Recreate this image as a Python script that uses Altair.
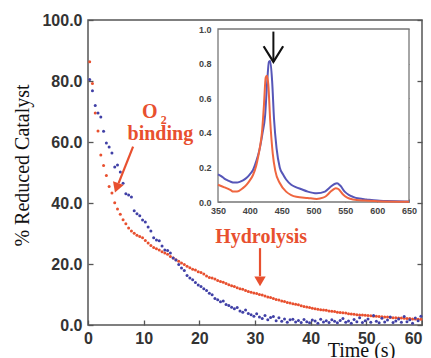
import altair as alt
import pandas as pd

# ---------------- data ----------------
TIME_START = 0.3
TIME_STEP = 0.5

RED_PCT = [86.3, 79.2, 69.5, 63.6, 55.7, 52.3, 49.0, 45.4, 43.3, 40.1,
           38.0, 36.3, 34.5, 33.2, 31.8, 30.8, 30.1, 29.4, 29.0, 28.6,
           27.7, 26.9, 26.1, 25.4, 25.0, 24.6, 24.0, 23.6, 23.2, 22.5,
           22.0, 21.4, 20.9, 20.3, 19.8, 19.3, 18.8, 18.3, 18.0, 17.5,
           17.2, 16.7, 16.1, 15.6, 15.4, 15.1, 14.6, 14.3, 14.0, 13.6,
           13.2, 12.9, 12.6, 12.2, 11.9, 11.7, 11.3, 11.0, 10.7, 10.5,
           10.3, 10.0, 9.8, 9.5, 9.2, 9.0, 8.7, 8.4, 8.2, 7.9,
           7.7, 7.4, 7.2, 7.0, 6.8, 6.6, 6.3, 6.1, 5.9, 5.7,
           5.5, 5.3, 5.2, 5.0, 4.9, 4.8, 4.6, 4.5, 4.4, 4.2,
           4.1, 4.0, 3.9, 3.7, 3.6, 3.5, 3.4, 3.3, 3.3, 3.2,
           3.1, 3.0, 2.9, 2.9, 2.8, 2.7, 2.6, 2.6, 2.5, 2.4,
           2.4, 2.3, 2.3, 2.2, 2.1, 2.1, 2.0, 2.0, 1.9, 1.9]

BLUE_PCT = [80.5, 76.8, 72.0, 69.5, 68.2, 63.5, 59.7, 58.4, 56.4, 51.8,
            52.5, 50.2, 46.5, 43.0, 42.6, 42.0, 37.5, 36.5, 35.8, 34.4,
            33.8, 32.1, 30.8, 28.6, 27.9, 27.6, 25.9, 24.6, 24.4, 23.6,
            22.0, 21.3, 19.8, 18.7, 17.9, 16.2, 15.4, 14.8, 13.9, 13.1,
            12.6, 11.9, 11.3, 10.4, 9.9, 8.7, 8.3, 7.6, 7.9, 6.7,
            6.4, 5.8, 5.3, 5.7, 4.6, 4.2, 4.9, 3.8, 3.4, 2.9,
            3.7, 2.6, 2.1, 3.1, 1.7, 2.5, 2.8, 1.4, 2.4, 1.2,
            2.0, 0.9, 1.7, 1.9, 1.0, 1.5, 0.8, 1.8, 1.1, 0.7,
            1.6, 1.3, 0.6, 1.9, 1.0, 1.4, 0.8, 1.7, 1.2, 0.7,
            1.5, 2.1, 0.9, 1.3, 0.6, 1.8, 1.1, 2.4, 0.8, 1.4,
            2.0, 0.9, 3.1, 1.2, 0.7, 2.2, 1.0, 1.6, 2.6, 0.8,
            1.3, 2.0, 0.9, 2.8, 1.1, 1.7, 0.6, 2.3, 1.4, 2.9]

X_TICKS = [0, 10, 20, 30, 40, 50, 60]
Y_TICKS = [0, 20, 40, 60, 80, 100]

SPEC_BLUE_NM = [350, 355, 360, 365, 370, 375, 380, 385, 390, 395, 400, 405,
                410, 415, 420, 424, 427, 430, 432, 435, 438, 442, 447, 452,
                457, 465, 473, 480, 491, 505, 518, 526, 533, 537, 542, 549,
                556, 562, 572, 583, 600, 614, 630, 650]
SPEC_BLUE_ABS = [0.16, 0.15, 0.135, 0.125, 0.117, 0.112, 0.112, 0.118, 0.127,
                 0.14, 0.16, 0.185, 0.235, 0.30, 0.40, 0.50, 0.68, 0.81, 0.815,
                 0.70, 0.48, 0.31, 0.20, 0.16, 0.13, 0.10, 0.085, 0.075, 0.06,
                 0.05, 0.06, 0.085, 0.104, 0.108, 0.095, 0.06, 0.04, 0.03,
                 0.02, 0.015, 0.008, 0.006, 0.004, 0.003]

SPEC_RED_NM = [350, 360, 370, 374, 380, 389, 395, 400, 405, 410, 413, 416,
               419, 422, 425, 427, 429, 432, 436, 440, 447, 457, 465, 473,
               491, 505, 515, 520, 527, 532, 535, 539, 546, 553, 562, 580,
               600, 650]
SPEC_RED_ABS = [0.10, 0.085, 0.068, 0.06, 0.06, 0.08, 0.10, 0.125, 0.156,
                0.21, 0.26, 0.32, 0.40, 0.55, 0.72, 0.73, 0.68, 0.47, 0.28,
                0.18, 0.11, 0.06, 0.04, 0.03, 0.023, 0.018, 0.025, 0.035,
                0.06, 0.075, 0.08, 0.075, 0.045, 0.025, 0.015, 0.008, 0.005,
                0.002]

INSET_X_TICKS = [350, 400, 450, 500, 550, 600, 650]
INSET_Y_TICKS = [0.0, 0.2, 0.4, 0.6, 0.8, 1.0]

# annotations (data units)
ANN_TEXT = ["O", "2", "binding", "Hydrolysis"]
ANN_T = [11.1, 13.6, 13.0, 31.1]
ANN_P = [67.9, 66.0, 60.7, 26.9]
ANN_SIZE = [20, 12, 20, 20]

ARROW_T1 = [8.1, 30.9]
ARROW_P1 = [58.5, 25.2]
ARROW_T2 = [5.5, 30.9]
ARROW_P2 = [46.5, 16.0]
HEAD_T = [5.15, 30.9]
HEAD_P = [45.0, 14.3]
HEAD_ANGLE = [20, 0]

INSET_ARROW_NM = 437
INSET_ARROW_TOP = 0.985
INSET_ARROW_TIP = 0.81

# ---------------- styling ----------------
RED = "#e8502f"
BLUE = "#4040a6"
RED_LINE = "#ef6640"
BLUE_LINE = "#5656b8"
SANS = "Liberation Sans"
SERIF = "Liberation Serif"
W, H = 334, 305
INSET_L, INSET_R, INSET_B, INSET_T = 130, 321, 182, 9

times = [round(TIME_START + TIME_STEP * i, 2) for i in range(len(RED_PCT))]
df = pd.DataFrame({
    "t": times + times,
    "pct": RED_PCT + BLUE_PCT,
    "series": ["red"] * len(RED_PCT) + ["blue"] * len(BLUE_PCT),
})

xs = alt.Scale(domain=[0, 60], nice=False, zero=False)
ys = alt.Scale(domain=[0, 100], nice=False, zero=False)

pts = alt.Chart(df).mark_circle(size=9, opacity=1).encode(
    x=alt.X("t:Q", scale=xs, axis=alt.Axis(
        values=X_TICKS, ticks=False, tickSize=0, domain=False, grid=False,
        labelFont=SANS, labelFontWeight="bold", labelFontSize=16,
        labelColor="#333", labelPadding=5, labelFlush=False, labelOverlap=False,
        labelAlign=alt.ExprRef(expr="datum.value >= 60 ? 'right' : 'center'"),
        title="Time (s)", titleFont=SERIF, titleFontWeight="normal",
        titleFontSize=20, titleColor="#111", titleX=273, titleY=31,
        titleAlign="center", titleBaseline="alphabetic")),
    y=alt.Y("pct:Q", scale=ys, axis=alt.Axis(
        values=Y_TICKS, format=".1f", ticks=False, tickSize=0, domain=False,
        grid=False, labelFont=SANS, labelFontWeight="bold", labelFontSize=16,
        labelColor="#333", labelPadding=6, labelFlush=False, labelOverlap=False,
        title="% Reduced Catalyst", titleFont=SERIF, titleFontWeight="normal",
        titleFontSize=20, titleColor="#111", titleX=-66, titleY=145,
        titleAngle=270, titleAlign="center", titleBaseline="middle")),
    color=alt.Color("series:N", scale=alt.Scale(domain=["red", "blue"], range=[RED, BLUE]), legend=None),
)

tick_axis = dict(labels=False, domain=False, grid=False, title=None, tickColor="#555", tickWidth=1.3)
ticks_a = alt.Chart(df).mark_circle(opacity=0).encode(
    x=alt.X("t:Q", scale=xs, axis=alt.Axis(orient="top", offset=-H, values=X_TICKS, tickSize=5, **tick_axis)),
    y=alt.Y("pct:Q", scale=ys, axis=alt.Axis(orient="right", offset=-W, values=Y_TICKS, tickSize=5, **tick_axis)),
)
ticks_b = alt.Chart(df).mark_circle(opacity=0).encode(
    x=alt.X("t:Q", scale=xs, axis=None),
    y=alt.Y("pct:Q", scale=ys, axis=alt.Axis(orient="left", offset=-W, values=Y_TICKS, tickSize=5, **tick_axis)),
)

ann_df = pd.DataFrame({"t": ANN_T, "p": ANN_P, "label": ANN_TEXT, "fs": ANN_SIZE})
ann_layers = []
for i in range(len(ANN_TEXT)):
    ann_layers.append(
        alt.Chart(ann_df.iloc[[i]]).mark_text(
            font=SERIF, fontWeight="bold", fontSize=ANN_SIZE[i], color=RED,
            align="center", baseline="alphabetic").encode(
            x=alt.X("t:Q", scale=xs, axis=None),
            y=alt.Y("p:Q", scale=ys, axis=None),
            text="label:N")
    )

arr_df = pd.DataFrame({"t1": ARROW_T1, "p1": ARROW_P1, "t2": ARROW_T2, "p2": ARROW_P2,
                       "ht": HEAD_T, "hp": HEAD_P, "ang": HEAD_ANGLE})
arrow_lines = alt.Chart(arr_df).mark_rule(color=RED, strokeWidth=2.2).encode(
    x=alt.X("t1:Q", scale=xs, axis=None), y=alt.Y("p1:Q", scale=ys, axis=None),
    x2="t2:Q", y2="p2:Q")
arrow_heads = alt.Chart(arr_df).mark_point(shape="triangle-down", filled=True, size=130,
                                           color=RED, opacity=1).encode(
    x=alt.X("ht:Q", scale=xs, axis=None), y=alt.Y("hp:Q", scale=ys, axis=None),
    angle=alt.Angle("ang:Q", scale=None))

main = alt.layer(pts, ticks_a, ticks_b, *ann_layers, arrow_lines, arrow_heads).resolve_axis(
    x="independent", y="independent")

# ---------------- inset ----------------
ixs = alt.Scale(domain=[350, 650], range=[INSET_L, INSET_R], nice=False, zero=False)
iys = alt.Scale(domain=[0, 1], range=[INSET_B, INSET_T], nice=False, zero=False)

frame_df = pd.DataFrame({"x0": [INSET_X_TICKS[0]], "x1": [INSET_X_TICKS[-1]],
                         "y0": [INSET_Y_TICKS[0]], "y1": [INSET_Y_TICKS[-1]]})
frame = alt.Chart(frame_df).mark_rect(fill="white", stroke="#777", strokeWidth=1.3).encode(
    x=alt.X("x0:Q", scale=ixs, axis=alt.Axis(
        orient="bottom", offset=-(H - INSET_B), values=INSET_X_TICKS, format="d",
        ticks=False, tickSize=0, domain=False, grid=False, labelFont=SANS,
        labelFontWeight="bold", labelFontSize=9, labelColor="#444", labelPadding=4,
        labelFlush=False, labelOverlap=False, title=None)),
    x2="x1:Q",
    y=alt.Y("y0:Q", scale=iys, axis=alt.Axis(
        orient="left", offset=-INSET_L, values=INSET_Y_TICKS, format=".1f",
        ticks=False, tickSize=0, domain=False, grid=False, labelFont=SANS,
        labelFontWeight="bold", labelFontSize=9, labelColor="#444", labelPadding=7,
        labelFlush=False, labelOverlap=False, title=None)),
    y2="y1:Q",
)

itick_axis = dict(labels=False, domain=False, grid=False, title=None, tickColor="#777", tickWidth=1)
iticks_a = alt.Chart(frame_df).mark_point(opacity=0).encode(
    x=alt.X("x0:Q", scale=ixs, axis=alt.Axis(orient="top", offset=-INSET_B, values=INSET_X_TICKS, tickSize=3, **itick_axis)),
    y=alt.Y("y0:Q", scale=iys, axis=alt.Axis(orient="right", offset=-(W - INSET_L), values=INSET_Y_TICKS, tickSize=3, **itick_axis)),
)
iticks_b = alt.Chart(frame_df).mark_point(opacity=0).encode(
    x=alt.X("x1:Q", scale=ixs, axis=None),
    y=alt.Y("y1:Q", scale=iys, axis=alt.Axis(orient="left", offset=-INSET_R, values=INSET_Y_TICKS, tickSize=3, **itick_axis)),
)

blue_df = pd.DataFrame({"nm": SPEC_BLUE_NM, "a": SPEC_BLUE_ABS})
red_df = pd.DataFrame({"nm": SPEC_RED_NM, "a": SPEC_RED_ABS})
blue_line = alt.Chart(blue_df).mark_line(color=BLUE_LINE, strokeWidth=2, interpolate="monotone").encode(
    x=alt.X("nm:Q", scale=ixs, axis=None), y=alt.Y("a:Q", scale=iys, axis=None))
red_line = alt.Chart(red_df).mark_line(color=RED_LINE, strokeWidth=2, interpolate="monotone").encode(
    x=alt.X("nm:Q", scale=ixs, axis=None), y=alt.Y("a:Q", scale=iys, axis=None))

iarr_df = pd.DataFrame({"nm": [INSET_ARROW_NM], "top": [INSET_ARROW_TOP], "tip": [INSET_ARROW_TIP]})
iarrow_line = alt.Chart(iarr_df).mark_rule(color="#111", strokeWidth=2).encode(
    x=alt.X("nm:Q", scale=ixs, axis=None), y=alt.Y("top:Q", scale=iys, axis=None), y2="tip:Q")
iarrow_head = alt.Chart(iarr_df).mark_point(shape="M-1,-1.6L0,0L1,-1.6", filled=False, size=380,
                                            stroke="#111", strokeWidth=2.2, opacity=1).encode(
    x=alt.X("nm:Q", scale=ixs, axis=None), y=alt.Y("tip:Q", scale=iys, axis=None))

inset = alt.layer(frame, iticks_a, iticks_b, blue_line, red_line, iarrow_line, iarrow_head).resolve_axis(
    x="independent", y="independent")

chart = alt.layer(main, inset).resolve_scale(
    x="independent", y="independent", color="independent"
).properties(
    width=W, height=H,
    autosize=alt.AutoSizeParams(type="none"),
    padding={"left": 80, "top": 12, "right": 1, "bottom": 33},
    background="white",
).configure_view(stroke="#555", strokeWidth=1.5).configure_axis(grid=False)

chart.save("out.html", embed_options={"renderer": "svg", "actions": False})
